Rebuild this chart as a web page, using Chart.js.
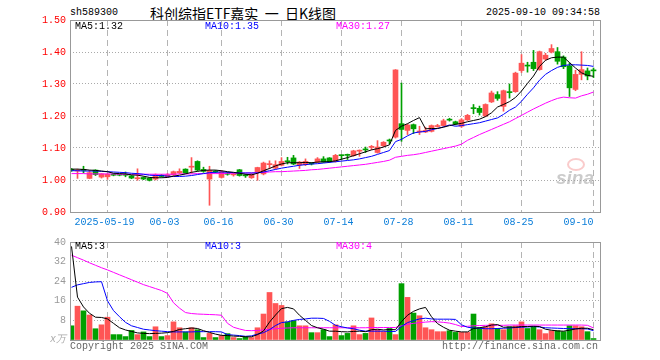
<!DOCTYPE html>
<html>
<head>
<meta charset="utf-8">
<script src="https://cdn.jsdelivr.net/npm/chart.js@4.4.1/dist/chart.umd.min.js"></script>
<style>
  body { margin: 0; background: #fff; width: 660px; height: 360px; position: relative; overflow: hidden;
         font-family: 'Liberation Mono', 'DejaVu Sans Mono', monospace; }
  .t { position: absolute; white-space: pre; font-size: 10px; line-height: 12px; }
  canvas { position: absolute; left: 0; }
</style>
</head>
<body>
<div class="t" style="left:70px;top:7px;">sh589300</div>
<div class="t" style="left:150px;top:5px;font-family:'Noto Sans CJK SC';font-size:14px;line-height:16px;">科创综指ETF嘉实  一  日K线图</div>
<div class="t" style="right:60px;top:7px;">2025-09-10 09:34:58</div>

<canvas id="priceChart" width="660" height="232" style="top:0"></canvas>
<canvas id="volChart" width="660" height="128" style="top:232px"></canvas>

<div class="t" style="left:75px;top:21px;color:#000">MA5:1.32</div>
<div class="t" style="left:205px;top:21px;color:#0000ff">MA10:1.35</div>
<div class="t" style="left:336px;top:21px;color:#ff00ff">MA30:1.27</div>

<div class="t" style="left:75px;top:241px;color:#000">MA5:3</div>
<div class="t" style="left:205px;top:241px;color:#0000ff">MA10:3</div>
<div class="t" style="left:336px;top:241px;color:#ff00ff">MA30:4</div>

<div class="t" style="left:50px;top:334px;color:#aaa;font-style:italic;">x万</div>
<div class="t" style="left:70px;top:341px;color:#666">Copyright 2025 SINA.COM</div>
<div class="t" style="right:62px;top:341px;color:#666">http://finance.sina.com.cn</div>
<div style="position:absolute;left:567px;top:158px;width:14px;height:9px;border:2px solid rgba(245,140,140,0.45);border-radius:50%;"></div>
<div class="t" style="left:556px;top:168px;font-family:'Liberation Sans';font-weight:bold;font-style:italic;font-size:19px;line-height:20px;color:rgba(160,160,160,0.55)">sina</div>

<script>
// trading days shown (2025)
const dates = [
  '05-09','05-12','05-13','05-14','05-15','05-16','05-19','05-20','05-21','05-22',
  '05-23','05-26','05-27','05-28','05-29','05-30','06-03','06-04','06-05','06-06',
  '06-09','06-10','06-11','06-12','06-13','06-16','06-17','06-18','06-19','06-20',
  '06-23','06-24','06-25','06-26','06-27','06-30','07-01','07-02','07-03','07-04',
  '07-07','07-08','07-09','07-10','07-11','07-14','07-15','07-16','07-17','07-18',
  '07-21','07-22','07-23','07-24','07-25','07-28','07-29','07-30','07-31','08-01',
  '08-04','08-05','08-06','08-07','08-08','08-11','08-12','08-13','08-14','08-15',
  '08-18','08-19','08-20','08-21','08-22','08-25','08-26','08-27','08-28','08-29',
  '09-01','09-02','09-03','09-04','09-05','09-08','09-09','09-10'
];

const openP = [
  1.033,1.028,1.031,1.005,1.031,1.009,1.010,1.017,1.016,1.016,
  1.013,1.004,1.008,1.006,1.003,1.015,1.010,1.016,1.022,1.034,
  1.040,1.058,1.033,1.003,1.027,1.008,1.021,1.016,1.032,1.014,
  1.007,1.025,1.019,1.048,1.037,1.046,1.059,1.069,1.047,1.048,
  1.051,1.056,1.066,1.069,1.058,1.077,1.078,1.076,1.090,1.095,
  1.102,1.086,1.107,1.124,1.134,1.176,1.155,1.173,1.150,1.150,
  1.152,1.167,1.170,1.190,1.182,1.168,1.188,1.225,1.224,1.200,
  1.244,1.267,1.230,1.275,1.276,1.342,1.358,1.368,1.345,1.378,
  1.400,1.401,1.384,1.357,1.283,1.330,1.341,1.342
];
const highP = [
  1.036,1.034,1.043,1.030,1.032,1.020,1.020,1.019,1.018,1.025,
  1.014,1.035,1.010,1.007,1.019,1.017,1.020,1.028,1.035,1.035,
  1.070,1.060,1.040,1.043,1.030,1.030,1.024,1.022,1.033,1.018,
  1.020,1.040,1.056,1.060,1.060,1.070,1.071,1.077,1.058,1.066,
  1.054,1.070,1.073,1.070,1.080,1.078,1.081,1.093,1.094,1.103,
  1.108,1.123,1.120,1.128,1.345,1.303,1.175,1.175,1.168,1.165,
  1.172,1.174,1.190,1.193,1.184,1.192,1.205,1.236,1.231,1.238,
  1.278,1.276,1.281,1.300,1.337,1.392,1.368,1.405,1.403,1.396,
  1.423,1.414,1.388,1.366,1.343,1.401,1.350,1.350
];
const lowP = [
  1.027,1.005,1.022,1.004,1.014,1.006,1.002,1.013,1.013,1.010,
  1.004,0.999,1.001,0.997,1.000,1.009,1.008,1.014,1.020,1.020,
  1.021,1.028,1.024,0.921,1.022,1.006,1.015,1.012,1.012,1.008,
  1.005,0.999,1.016,1.035,1.034,1.044,1.050,1.048,1.036,1.045,
  1.047,1.054,1.055,1.055,1.056,1.064,1.064,1.074,1.074,1.086,
  1.095,1.084,1.104,1.113,1.131,1.121,1.142,1.145,1.142,1.148,
  1.150,1.165,1.168,1.184,1.172,1.164,1.186,1.207,1.203,1.198,
  1.242,1.249,1.215,1.256,1.274,1.336,1.337,1.342,1.343,1.374,
  1.397,1.362,1.348,1.261,1.279,1.313,1.313,1.320
];
const closeP = [
  1.030,1.031,1.030,1.023,1.017,1.019,1.018,1.015,1.015,1.015,
  1.006,1.006,1.003,0.999,1.016,1.011,1.016,1.026,1.027,1.021,
  1.042,1.031,1.027,1.030,1.025,1.026,1.018,1.019,1.014,1.013,
  1.018,1.039,1.053,1.050,1.048,1.058,1.057,1.050,1.056,1.058,
  1.050,1.066,1.056,1.057,1.077,1.076,1.077,1.091,1.093,1.094,
  1.104,1.103,1.118,1.122,1.344,1.158,1.172,1.160,1.153,1.155,
  1.170,1.170,1.185,1.187,1.175,1.188,1.202,1.223,1.211,1.236,
  1.272,1.255,1.279,1.273,1.334,1.365,1.356,1.348,1.401,1.390,
  1.411,1.371,1.354,1.288,1.330,1.345,1.325,1.341
];

// price moving averages as drawn
const ma5 = [
  1.034,1.034,1.033,1.031,1.030,1.028,1.026,1.021,1.020,1.019,
  1.016,1.015,1.012,1.008,1.007,1.007,1.008,1.012,1.015,1.019,
  1.024,1.027,1.030,1.031,1.031,1.029,1.026,1.024,1.021,1.018,
  1.016,1.021,1.029,1.036,1.044,1.050,1.054,1.054,1.054,1.055,
  1.054,1.056,1.057,1.057,1.060,1.065,1.070,1.076,1.082,1.088,
  1.094,1.098,1.103,1.110,1.155,1.168,1.176,1.186,1.195,1.160,
  1.161,1.161,1.165,1.170,1.174,1.177,1.182,1.186,1.190,1.198,
  1.210,1.228,1.236,1.245,1.258,1.278,1.302,1.325,1.355,1.374,
  1.382,1.384,1.384,1.367,1.350,1.335,1.327,1.324
];
const ma10 = [
  1.029,1.029,1.028,1.028,1.028,1.027,1.026,1.025,1.024,1.023,
  1.021,1.020,1.018,1.015,1.014,1.014,1.012,1.011,1.011,1.012,
  1.014,1.017,1.020,1.023,1.024,1.025,1.024,1.023,1.022,1.022,
  1.022,1.022,1.025,1.029,1.033,1.037,1.040,1.043,1.046,1.048,
  1.050,1.051,1.053,1.055,1.057,1.059,1.061,1.063,1.066,1.070,
  1.074,1.080,1.086,1.092,1.120,1.127,1.138,1.147,1.150,1.152,
  1.157,1.161,1.166,1.172,1.168,1.170,1.173,1.176,1.179,1.184,
  1.189,1.194,1.205,1.218,1.228,1.246,1.268,1.288,1.312,1.330,
  1.342,1.352,1.358,1.360,1.360,1.359,1.358,1.355
];
const ma30 = [
  1.020,1.020,1.020,1.019,1.019,1.019,1.019,1.019,1.018,1.018,
  1.018,1.018,1.018,1.018,1.018,1.018,1.018,1.018,1.019,1.019,
  1.019,1.020,1.020,1.020,1.020,1.020,1.021,1.021,1.021,1.022,
  1.022,1.023,1.024,1.025,1.026,1.026,1.027,1.028,1.029,1.030,
  1.032,1.033,1.035,1.037,1.039,1.041,1.043,1.045,1.047,1.049,
  1.052,1.055,1.058,1.062,1.071,1.074,1.077,1.079,1.082,1.086,
  1.090,1.094,1.098,1.102,1.106,1.112,1.124,1.133,1.142,1.150,
  1.158,1.166,1.174,1.182,1.192,1.202,1.212,1.222,1.231,1.240,
  1.248,1.255,1.259,1.257,1.256,1.263,1.268,1.275
];

// volume (x 10k) and its moving averages as drawn
const volume = [
  5.8,13.8,11.9,10.2,4.6,6.2,9.3,2.2,2.2,1.4,
  3.9,2.2,3.3,1.4,5.4,1.4,1.8,7.4,5.0,3.3,
  5.0,4.2,1.0,2.7,1.0,1.8,2.6,1.0,0.6,1.4,
  1.0,5.0,10.6,19.4,14.9,14.1,7.4,7.9,5.8,5.8,
  3.0,3.0,4.2,1.4,6.2,1.8,2.7,5.8,2.2,2.7,
  9.0,4.2,3.4,4.7,2.2,23.0,17.4,11.0,9.9,5.0,
  4.2,3.4,3.4,3.8,3.1,3.1,3.1,10.6,5.0,5.4,
  6.6,4.7,4.2,5.4,5.8,7.4,4.7,5.4,4.2,2.6,
  3.8,3.8,3.4,5.8,5.8,5.4,3.4,0.6
];
const volMa5 = [
  38.2,17.5,13.5,10.9,9.3,9.2,8.6,6.8,5.0,4.1,
  3.5,2.9,2.7,2.6,2.7,2.8,3.0,3.5,4.3,4.6,
  4.9,4.7,3.8,3.1,2.4,1.9,1.8,1.6,1.5,1.3,
  1.3,2.2,3.7,7.3,10.2,12.8,13.3,12.7,10.1,8.0,
  5.9,5.0,4.4,3.6,3.6,3.4,3.3,3.5,3.6,3.4,
  4.2,4.4,4.1,4.3,4.2,7.5,10.1,11.7,12.7,13.3,
  9.5,6.7,5.2,4.0,3.6,3.3,3.3,4.7,5.0,5.4,
  6.1,6.3,5.2,5.3,5.2,5.5,5.5,5.6,5.5,4.4,
  4.0,3.7,3.6,4.0,4.5,4.8,4.8,4.2
];
const volMa10 = [
  21.5,22.5,23.0,23.5,23.7,23.8,16.0,12.0,9.5,7.2,
  5.8,5.1,4.4,4.1,3.8,3.6,3.4,3.3,3.3,3.3,
  3.3,3.4,3.4,3.4,3.4,3.3,2.2,2.0,1.8,1.5,
  1.7,2.4,3.0,4.2,5.9,7.1,7.4,8.0,8.4,8.6,
  8.9,8.9,8.8,7.6,6.0,5.4,4.9,4.6,4.0,3.6,
  3.6,3.6,3.6,3.5,3.5,5.5,7.1,7.9,8.6,8.9,
  8.6,8.5,8.5,8.5,8.4,6.2,5.2,4.9,4.8,4.6,
  4.6,4.7,4.8,4.9,5.1,5.2,5.3,5.5,5.3,5.0,
  4.9,4.8,4.7,4.6,4.6,4.6,4.5,3.8
];
const volMa30 = [
  34.6,33.6,32.6,31.5,30.5,29.5,28.6,27.6,26.6,25.6,
  24.6,23.6,22.6,21.8,21.0,20.2,19.0,15.2,13.0,11.2,
  10.8,10.6,10.5,10.4,10.3,10.1,6.8,5.2,4.5,3.9,
  3.8,3.9,4.1,4.4,4.6,4.8,4.9,5.0,5.0,5.0,
  5.0,5.0,5.0,5.0,5.0,5.0,5.0,5.0,5.0,5.0,
  5.1,5.1,5.1,5.1,5.1,5.8,6.4,6.8,7.1,7.3,
  7.5,7.4,7.2,6.9,6.3,5.5,5.6,5.8,5.9,6.0,
  6.0,6.0,6.0,6.1,6.1,6.1,6.1,6.1,6.1,6.1,
  6.1,6.1,6.1,6.1,6.1,6.1,6.0,4.9
];

const tickDates = ['05-19','06-03','06-16','06-30','07-14','07-28','08-11','08-25','09-10'];
const tickLabels = ['2025-05-19','06-03','06-16','06-30','07-14','07-28','08-11','08-25','09-10'];
const priceTicks = [0.9, 1.0, 1.1, 1.2, 1.3, 1.4, 1.5];
const volTicks = [0, 8, 16, 24, 32, 40];

const RED = '#FF5555';
const GREEN = '#00A000';
const MONO = 'Liberation Mono';

const tickIdx = tickDates.map(d => dates.indexOf(d));
const candleColor = closeP.map((c, i) => (c >= openP[i] ? RED : GREEN));
const pts = arr => arr.map((v, i) => ({ x: i, y: v }));

// the last date label sits left of its grid line, inside the frame
function tickText(v) {
  const k = tickIdx.indexOf(v);
  if (k === tickLabels.length - 1) return tickLabels[k] + '     ';
  return tickLabels[k] + ' ';
}

function xAxis(showLabels) {
  return {
    type: 'linear',
    offset: false,
    min: -0.25,
    max: 88.0833,
    afterBuildTicks: s => { s.ticks = tickIdx.map(v => ({ value: v })); },
    afterFit: s => { s.height = showLabels ? 20 : 0; },
    ticks: {
      display: showLabels,
      autoSkip: false,
      maxRotation: 0,
      padding: 4,
      color: '#0A7DD9',
      font: { family: MONO, size: 10 },
      callback: tickText
    },
    grid: { offset: false, color: '#b4b4b4', lineWidth: 1, drawTicks: false },
    border: { display: false, dash: [6, 4] }
  };
}

function maLine(arr, color) {
  return {
    type: 'line',
    data: pts(arr),
    borderColor: color,
    borderWidth: 1,
    pointRadius: 0,
    tension: 0,
    order: 0
  };
}

const framePlugin = {
  id: 'frame',
  afterDraw(chart) {
    const { ctx, chartArea: a } = chart;
    ctx.save();
    ctx.strokeStyle = '#999';
    ctx.lineWidth = 1;
    ctx.strokeRect(Math.round(a.left) + 0.5, Math.round(a.top) + 0.5,
      Math.round(a.right - a.left), Math.round(a.bottom - a.top));
    ctx.restore();
  }
};

const baseOptions = {
  responsive: false,
  animation: false,
  devicePixelRatio: 1,
  events: [],
  plugins: { legend: { display: false }, tooltip: { enabled: false } }
};

new Chart(document.getElementById('priceChart'), {
  type: 'bar',
  data: {
    datasets: [
      maLine(ma5, '#000000'),
      maLine(ma10, '#0000FF'),
      maLine(ma30, '#FF00FF'),
      {
        data: dates.map((d, i) => ({ x: i, y: [openP[i], closeP[i]] })),
        backgroundColor: candleColor,
        barThickness: 5,
        minBarLength: 1,
        grouped: false,
        order: 1
      },
      {
        data: dates.map((d, i) => ({ x: i, y: [lowP[i], highP[i]] })),
        backgroundColor: candleColor,
        barThickness: 1,
        grouped: false,
        order: 2
      }
    ]
  },
  options: {
    ...baseOptions,
    layout: { padding: { top: 20, right: 60, left: 0, bottom: 0 } },
    scales: {
      x: xAxis(true),
      y: {
        min: 0.9,
        max: 1.5,
        afterBuildTicks: s => { s.ticks = priceTicks.map(v => ({ value: v })); },
        afterFit: s => { s.width = 70; },
        ticks: { color: '#FF0000', padding: 4, font: { family: MONO, size: 10 }, callback: v => v.toFixed(2) },
        grid: { color: '#aaaaaa', drawTicks: false },
        border: { display: false, dash: [1, 2] }
      }
    }
  },
  plugins: [framePlugin]
});

new Chart(document.getElementById('volChart'), {
  type: 'bar',
  data: {
    datasets: [
      maLine(volMa5, '#000000'),
      maLine(volMa10, '#0000FF'),
      maLine(volMa30, '#FF00FF'),
      {
        data: dates.map((d, i) => ({ x: i, y: volume[i] })),
        backgroundColor: candleColor,
        barThickness: 5,
        grouped: false,
        order: 1
      }
    ]
  },
  options: {
    ...baseOptions,
    layout: { padding: { top: 8, right: 60, left: 0, bottom: 20 } },
    scales: {
      x: xAxis(false),
      y: {
        min: 0,
        max: 40,
        afterBuildTicks: s => { s.ticks = volTicks.map(v => ({ value: v })); },
        afterFit: s => { s.width = 70; },
        ticks: { color: '#999999', padding: 4, font: { family: MONO, size: 10 }, callback: v => (v === 0 ? '' : String(v)) },
        grid: { color: '#aaaaaa', drawTicks: false },
        border: { display: false, dash: [1, 2] }
      }
    }
  },
  plugins: [framePlugin]
});
</script>
</body>
</html>
